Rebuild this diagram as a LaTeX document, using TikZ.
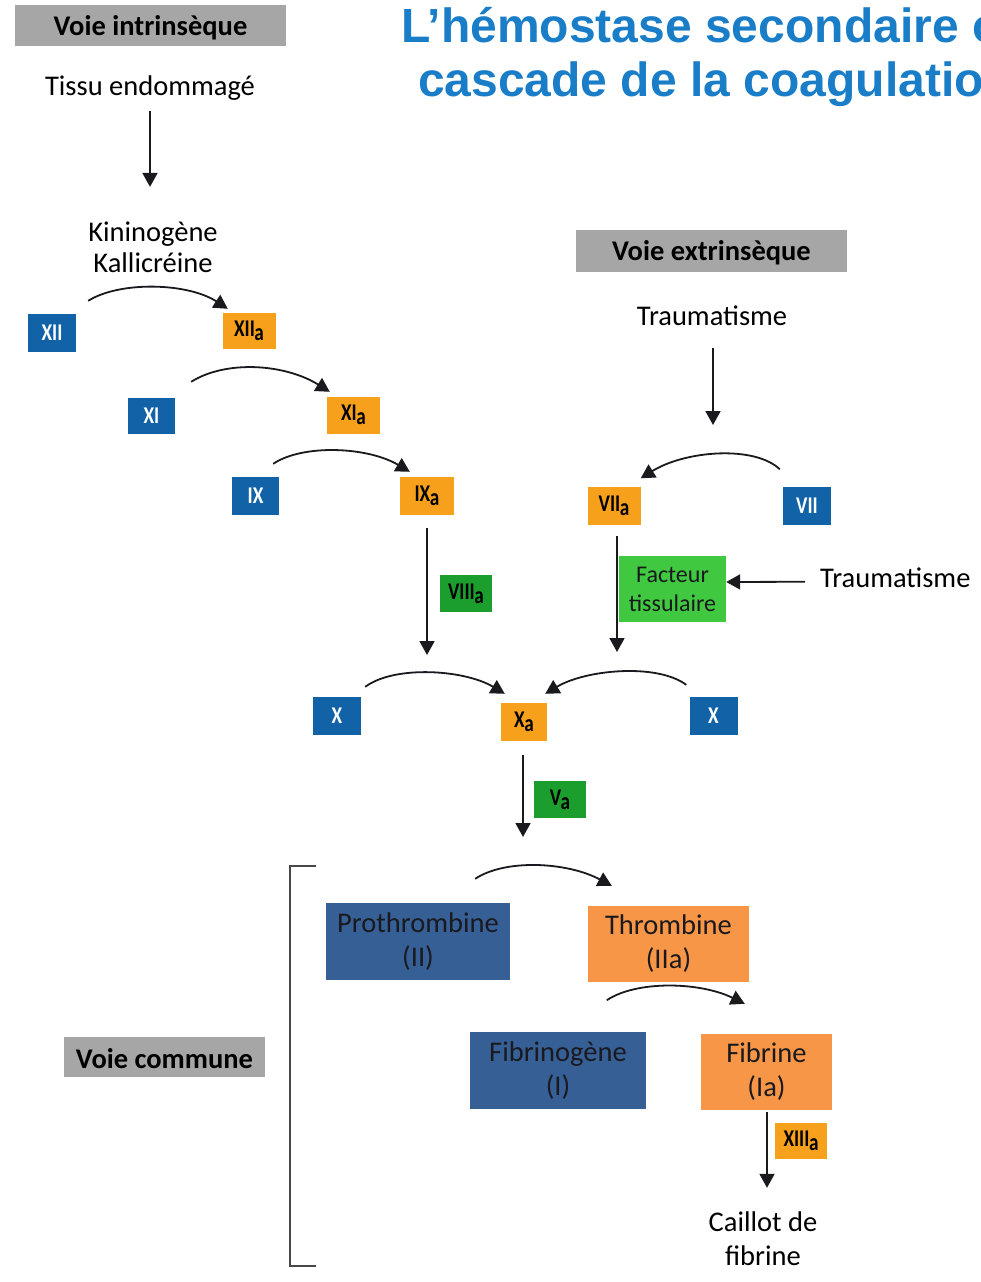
\documentclass[tikz,border=0pt]{standalone}
\usepackage{fontspec}
\usepackage{graphicx}
\setmainfont{Carlito}
\newfontfamily\titlefont{Liberation Sans}
\usetikzlibrary{arrows.meta}

\definecolor{smallblue}{RGB}{18,98,168}
\definecolor{smallorange}{RGB}{247,160,28}
\definecolor{darkgreen}{RGB}{28,158,46}
\definecolor{lightgreen}{RGB}{64,200,64}
\definecolor{bigblue}{RGB}{54,95,150}
\definecolor{bigorange}{RGB}{247,150,70}
\definecolor{headgray}{RGB}{166,166,166}
\definecolor{titleblue}{RGB}{25,125,200}
\definecolor{ink}{RGB}{25,25,30}

% factor labels: narrow lettering; activated ones get a lowered "a"
\newcommand\fct[1]{\scalebox{0.8}[1]{#1}}
\newcommand\actv[1]{\scalebox{0.8}[1]{#1\kern-0.5pt\raisebox{-0.35ex}{a}}}
% header text sits a little low in its band
\newcommand\hdrtext[1]{\raisebox{-2pt}[\height][\depth]{#1}}

\tikzset{
  fac/.style={inner sep=0pt, font=\bfseries\fontsize{24}{24}\selectfont},
  inact/.style={fac, fill=smallblue, text=white},
  actf/.style={fac, fill=smallorange, text=black},
  cof/.style={fac, fill=darkgreen, text=black},
  bigbox/.style={inner sep=0pt, align=center, text=ink,
    font=\fontsize{28.5}{34}\selectfont},
  txt/.style={inner sep=0pt, align=center, text=black,
    font=\fontsize{28.5}{34}\selectfont},
  hdr/.style={inner sep=0pt, fill=headgray, text=black,
    font=\bfseries\fontsize{28.5}{34}\selectfont},
  arr/.style={draw=ink, line width=1.8pt, -{Triangle[length=14pt,width=15pt]}},
  brk/.style={draw=ink!80, line width=2.2pt},
}

\begin{document}
\begin{tikzpicture}[x=1pt, y=-1pt]
\useasboundingbox (0,0) rectangle (981,1282);
\clip (0,0) rectangle (981,1282);

% title
\node[anchor=base west, inner sep=0pt, text=titleblue,
  font=\titlefont\bfseries\fontsize{48}{57}\selectfont] (title1) at (401,42)
  {L’hémostase secondaire ou};
\node[anchor=base west, inner sep=0pt, text=titleblue,
  font=\titlefont\bfseries\fontsize{48}{57}\selectfont] (title2) at (418,96)
  {cascade de la coagulation};

% intrinsic pathway
\node[hdr, minimum width=271pt, minimum height=41pt] (vi) at (150.5,25.5) {\hdrtext{Voie intrinsèque}};
\node[txt, anchor=base] (tissu) at (150,95) {Tissu endommagé};
\node[txt, font=\fontsize{28.5}{31}\selectfont] (kin) at (153,247.5) {Kininogène\\Kallicréine};

\node[inact, minimum width=48pt, minimum height=38pt] (xii) at (52,333) {\fct{XII}};
\node[actf, minimum width=53pt, minimum height=36pt] (xiia) at (249,331) {\actv{XII}};
\node[inact, minimum width=47pt, minimum height=36pt] (xi) at (151.5,416) {\fct{XI}};
\node[actf, minimum width=53pt, minimum height=37pt] (xia) at (353.5,415) {\actv{XI}};
\node[inact, minimum width=47pt, minimum height=38pt] (ix) at (255.5,496) {\fct{IX}};
\node[actf, minimum width=54pt, minimum height=38pt] (ixa) at (427,496) {\actv{IX}};
\node[cof, minimum width=52pt, minimum height=37pt] (viiia) at (466,593.5) {\actv{VIII}};

% extrinsic pathway
\node[hdr, minimum width=271pt, minimum height=42pt] (ve) at (711.5,251) {\hdrtext{Voie extrinsèque}};
\node[txt, anchor=base] (trauma1) at (712,325) {Traumatisme};
\node[actf, minimum width=53pt, minimum height=38pt] (viia) at (614,505.5) {\actv{VII}};
\node[inact, minimum width=48pt, minimum height=38pt] (vii) at (807,505.5) {\fct{VII}};
\node[inner sep=0pt, fill=lightgreen, text=ink, align=center,
  font=\fontsize{24}{29}\selectfont, minimum width=107pt, minimum height=66pt]
  (ft) at (672.5,589) {Facteur\\tissulaire};
\node[txt, anchor=base west] (trauma2) at (820,587) {Traumatisme};

% factor X
\node[inact, minimum width=48pt, minimum height=38pt] (xl) at (337,716) {\fct{X}};
\node[actf, minimum width=46pt, minimum height=38pt] (xa) at (524,722) {\actv{X}};
\node[inact, minimum width=48pt, minimum height=38pt] (xr) at (713.5,716) {\fct{X}};
\node[cof, minimum width=52pt, minimum height=37pt] (va) at (560,799.5) {\actv{V}};

\coordinate (joinL) at (427,655);
\coordinate (joinR) at (617,652);
\coordinate (common) at (523,837);
\coordinate (vhit) at (713,425);

% common pathway
\node[hdr, minimum width=201pt, minimum height=40pt] (vc) at (164.5,1057) {\hdrtext{Voie commune}};
\node[bigbox, fill=bigblue, minimum width=184pt, minimum height=77pt] (pro) at (418,941.5) {Prothrombine\\(II)};
\node[bigbox, fill=bigorange, minimum width=161pt, minimum height=76pt] (thr) at (668.5,944) {Thrombine\\(IIa)};
\node[bigbox, fill=bigblue, minimum width=176pt, minimum height=77pt] (fbg) at (558,1070.5) {Fibrinogène\\(I)};
\node[bigbox, fill=bigorange, minimum width=131pt, minimum height=76pt] (fib) at (766.5,1072) {Fibrine\\(Ia)};
\node[actf, minimum width=52pt, minimum height=36pt] (xiiia) at (801,1141) {\actv{XIII}};
\node[txt] (caillot) at (763,1239) {Caillot de\\fibrine};

% bracket around the common pathway
\coordinate (bt) at (316,866);
\coordinate (bb) at (316,1266);
\draw[brk] (bt) -- (290,866) -- (290,1266) -- (bb);

% straight arrows
\draw[arr] ([shift={(0,11)}]tissu.south) -- ([shift={(-3,-35)}]kin.north);
\draw[arr] ([shift={(1,23)}]trauma1.south) -- (vhit);
\draw[arr] ([shift={(0,13)}]ixa.south) -- (joinL);
\draw[arr] ([shift={(3,11)}]viia.south) -- (joinR);
\draw[arr] ([shift={(-15,4.5)}]trauma2.west) -- ([shift={(0,-7)}]ft.east);
\draw[arr] ([shift={(-1,14)}]xa.south) -- (common);
\draw[arr] ([shift={(0.5,2)}]fib.south) -- ([shift={(4,-24)}]caillot.north);

% activation curves
\draw[arr] ([shift={(12,-13)}]xii.north east) .. controls +(32,-20) and +(-40,-26) .. ([shift={(5.5,-4)}]xiia.north west);
\draw[arr] ([shift={(16,-16)}]xi.north east) .. controls +(35,-22) and +(-45,-28) .. ([shift={(3,-4.5)}]xia.north west);
\draw[arr] ([shift={(-6,-13)}]ix.north east) .. controls +(30,-20) and +(-42,-25) .. ([shift={(10,-5)}]ixa.north west);
\draw[arr] ([shift={(-3,-17)}]vii.north west) .. controls +(-25,-24) and +(45,-28) .. ([shift={(0,-8)}]viia.north east);
\draw[arr] ([shift={(4,-10)}]xl.north east) .. controls +(30,-22) and +(-40,-24) .. ([shift={(4,-9)}]xa.north west);
\draw[arr] ([shift={(-3,-12)}]xr.north west) .. controls +(-30,-22) and +(40,-24) .. ([shift={(-2,-9)}]xa.north east);
\draw[arr] ([shift={(-35,-24)}]pro.north east) .. controls +(30,-20) and +(-45,-24) .. ([shift={(24,-20)}]thr.north west);
\draw[arr] ([shift={(19,18)}]thr.south west) .. controls +(30,-20) and +(-45,-22) .. ([shift={(44,-30)}]fib.north west);
\end{tikzpicture}
\end{document}
